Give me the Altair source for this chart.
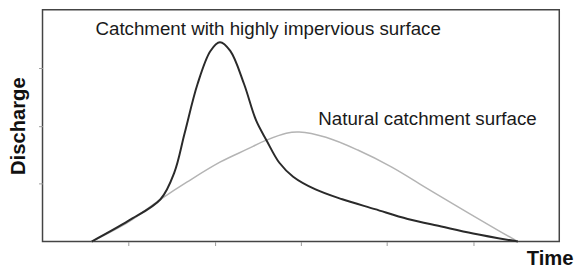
import altair as alt
import pandas as pd

# Impervious catchment hydrograph (black)
imp_t = [0.57, 1.0, 1.37, 1.53, 1.65, 1.80, 1.95, 2.06, 2.18, 2.34, 2.48, 2.60, 2.75, 2.91, 3.17, 3.48, 3.86, 4.24, 4.63, 5.00, 5.52]
imp_q = [0.0, 0.36, 0.73, 1.19, 1.87, 2.72, 3.29, 3.44, 3.29, 2.72, 2.09, 1.75, 1.36, 1.12, 0.90, 0.73, 0.56, 0.39, 0.26, 0.14, 0.0]

# Natural catchment hydrograph (grey)
nat_t = [0.57, 1.0, 1.37, 1.68, 2.06, 2.37, 2.60, 2.83, 2.98, 3.29, 3.66, 4.05, 4.43, 4.81, 5.20, 5.52]
nat_q = [0.0, 0.34, 0.73, 1.03, 1.37, 1.59, 1.75, 1.87, 1.89, 1.80, 1.58, 1.29, 0.95, 0.61, 0.27, 0.0]

labels = ["Catchment with highly impervious surface", "Natural catchment surface"]
label_t = [2.62, 4.47]
label_q = [3.57, 2.01]

x_ticks = [1, 2, 3, 4, 5]
y_ticks = [1, 2, 3]

imp = pd.DataFrame({"t": imp_t, "q": imp_q})
nat = pd.DataFrame({"t": nat_t, "q": nat_q})
lab = pd.DataFrame({"t": label_t, "q": label_q, "label": labels})

xs = alt.Scale(domain=[0, 6], nice=False, zero=False)
ys = alt.Scale(domain=[0, 4], nice=False, zero=False)

xax = alt.Axis(values=x_ticks, labels=False, grid=False, domain=False,
               tickColor="#999999", tickSize=4, tickWidth=1,
               title="Time", titleFont="Liberation Sans", titleFontSize=20.5,
               titleFontWeight="bold", titleColor="#111111",
               titleAnchor="end", titleAlign="right", titleX=538, titleY=23,
               titleBaseline="alphabetic")
yax = alt.Axis(values=y_ticks, labels=False, grid=False, domain=False,
               tickColor="#999999", tickSize=4, tickWidth=1,
               title="Discharge", titleFont="Liberation Sans", titleFontSize=20.5,
               titleFontWeight="bold", titleColor="#111111",
               titleX=-18, titleBaseline="alphabetic")

nat_line = alt.Chart(nat).mark_line(interpolate="catmull-rom", color="#b4b4b4", strokeWidth=1.5).encode(
    x=alt.X("t:Q", scale=xs, axis=xax),
    y=alt.Y("q:Q", scale=ys, axis=yax),
)
imp_line = alt.Chart(imp).mark_line(interpolate="catmull-rom", color="#2a2a2a", strokeWidth=2).encode(
    x=alt.X("t:Q", scale=xs),
    y=alt.Y("q:Q", scale=ys),
)
text = alt.Chart(lab).mark_text(font="Liberation Sans", fontSize=19, color="#1a1a1a",
                                align="center", baseline="alphabetic").encode(
    x=alt.X("t:Q", scale=xs),
    y=alt.Y("q:Q", scale=ys),
    text="label:N",
)

chart = alt.layer(nat_line, imp_line, text).properties(
    width=524, height=235,
    autosize=alt.AutoSizeParams(type="none"),
    padding={"left": 35, "top": 0, "right": 20, "bottom": 28},
).configure_view(stroke="#444444", strokeWidth=1.5)

chart.save("out.html", embed_options={"renderer": "svg", "actions": False})
